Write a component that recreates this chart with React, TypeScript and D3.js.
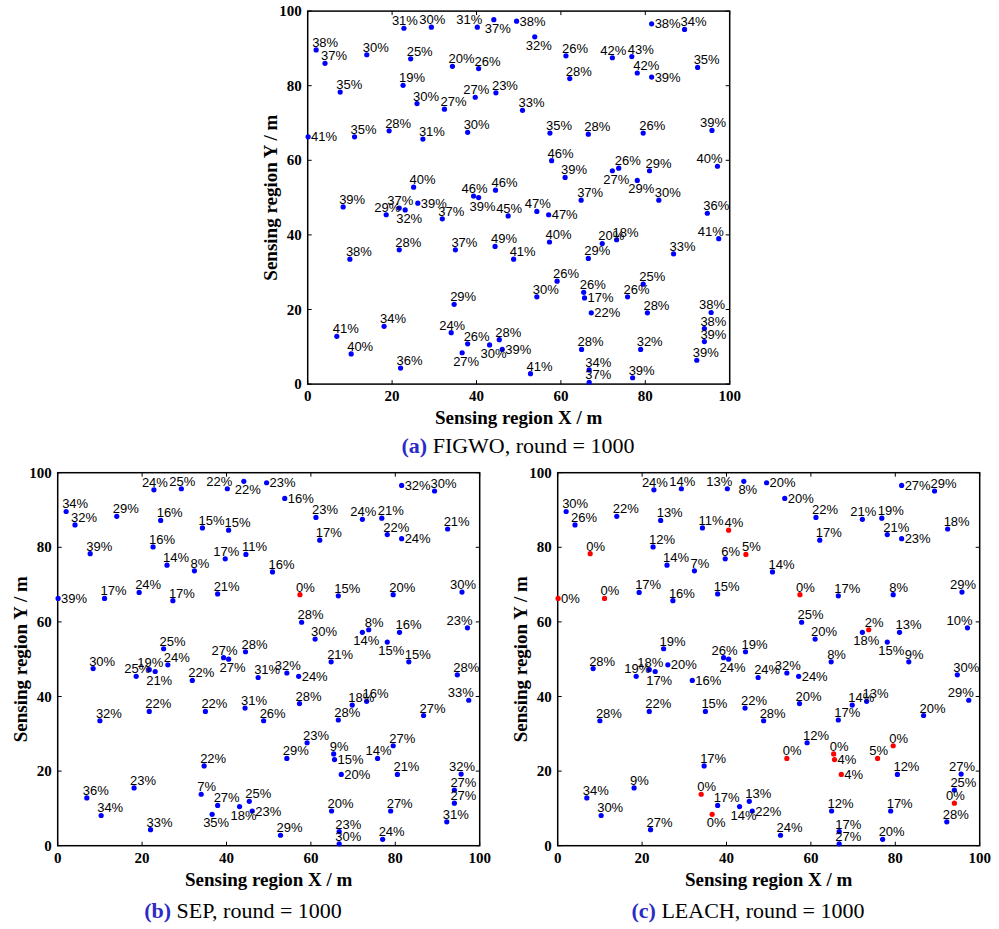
import React from "react";
import * as d3 from "d3";

// Node coordinates (same network in all three panels), metres
const nodeX = [22.8, 29.3, 40.2, 44.1, 49.5, 2.0, 4.1, 14.0, 24.4, 34.3, 40.5, 7.7, 22.6, 25.9, 32.4, 39.7, 44.6, 50.9, 0.1, 11.1, 19.3, 27.3, 37.9, 25.1, 39.3, 40.5, 44.5,
  53.8, 61.2, 62.1, 72.2, 76.8, 78.1, 81.5, 81.5, 89.3, 92.4, 57.4, 66.5, 79.5, 95.8, 57.8, 61.0, 72.2, 73.7, 78.1, 81.0, 97.1, 83.2, 64.8, 54.3, 57.1,
  8.4, 18.6, 21.7, 23.1, 26.1, 31.9, 47.5, 21.7, 10.0, 35.0, 44.4, 48.8, 34.7, 6.9, 18.1, 10.3, 22.0, 34.0, 37.9, 36.6, 43.1, 45.4, 46.1, 52.8,
  94.7, 57.3, 69.8, 73.2, 66.5, 86.7, 97.4, 59.1, 54.3, 65.4, 65.6, 67.2, 75.8, 79.5, 80.5, 95.6, 94.0, 94.0, 92.2, 64.9, 78.9, 66.7, 66.7, 77.0];
const nodeY = [95.4, 95.7, 95.7, 97.7, 97.3, 89.6, 86.0, 88.3, 87.2, 85.2, 84.6, 78.3, 80.1, 75.2, 73.7, 76.9, 78.1, 73.4, 66.3, 66.3, 67.9, 65.7, 67.5, 52.8, 50.4, 50.0, 52.0,
  93.1, 88.0, 81.9, 87.5, 87.8, 83.4, 82.3, 96.6, 95.1, 84.9, 67.3, 67.0, 67.3, 68.0, 59.9, 55.4, 57.2, 57.9, 54.6, 57.2, 58.4, 49.3, 49.3, 46.3, 45.4,
  47.5, 45.4, 47.2, 46.7, 48.5, 44.3, 45.1, 36.0, 33.5, 36.0, 36.9, 33.5, 21.4, 12.8, 15.5, 8.1, 4.3, 13.8, 10.8, 8.4, 10.5, 11.9, 9.3, 2.8,
  45.8, 38.1, 37.7, 38.7, 33.7, 34.9, 39.0, 27.6, 23.4, 24.6, 23.1, 19.1, 23.4, 26.8, 19.1, 19.2, 14.9, 11.4, 6.4, 9.3, 9.3, 3.8, 0.5, 1.7];

// Residual energy percentages after 1000 rounds
const figwoPct = [31, 30, 31, 37, 38, 38, 37, 30, 25, 20, 26, 35, 19, 30, 27, 27, 23, 33, 41, 35, 28, 31, 30, 40, 46, 39, 46,
  32, 26, 28, 42, 43, 42, 39, 38, 34, 35, 35, 28, 26, 39, 46, 39, 27, 26, 29, 29, 40, 30, 37, 47, 47,
  39, 29, 37, 32, 39, 37, 45, 28, 38, 37, 49, 41, 29, 41, 34, 40, 36, 24, 26, 27, 30, 28, 39, 41,
  36, 40, 20, 18, 29, 33, 41, 26, 30, 26, 17, 22, 26, 25, 28, 38, 38, 39, 39, 28, 32, 34, 37, 39];
const sepPct = [24, 25, 22, 22, 23, 34, 32, 29, 16, 15, 15, 39, 16, 14, 8, 17, 11, 16, 39, 17, 24, 17, 21, 25, 27, 27, 28,
  16, 23, 17, 24, 21, 22, 24, 32, 30, 21, 0, 15, 20, 30, 28, 30, 14, 8, 15, 16, 23, 15, 21, 32, 24,
  30, 25, 19, 21, 24, 22, 31, 22, 32, 22, 31, 26, 22, 36, 23, 34, 33, 7, 27, 35, 18, 25, 23, 29,
  28, 28, 18, 16, 28, 27, 33, 23, 29, 9, 15, 20, 14, 27, 21, 32, 27, 27, 31, 20, 27, 23, 30, 24];
const leachPct = [24, 14, 13, 8, 20, 30, 26, 22, 13, 11, 4, 0, 12, 14, 7, 6, 5, 14, 0, 0, 17, 16, 15, 19, 26, 24, 19,
  20, 22, 17, 21, 19, 21, 23, 27, 29, 18, 0, 17, 8, 29, 25, 20, 18, 2, 15, 13, 10, 9, 8, 32, 24,
  28, 19, 18, 17, 20, 16, 24, 22, 28, 15, 22, 28, 17, 34, 9, 30, 27, 0, 17, 0, 14, 13, 22, 24,
  30, 20, 14, 13, 17, 20, 29, 12, 0, 0, 4, 4, 5, 0, 12, 27, 25, 0, 28, 12, 17, 17, 27, 20];

const xTicks = [0, 20, 40, 60, 80, 100];
const yTicks = [0, 20, 40, 60, 80, 100];

// label placement exceptions (1-based node numbers); all others are "ne"
const placeFIGWO: Record<string, number[]> = {
  n: [1, 2, 16, 25, 31, 41, 51, 54, 55, 59, 70, 92],
  nw: [3, 48, 83],
  s: [4, 26, 28, 44, 46, 56, 72, 73],
  e: [5, 19, 34, 35, 52, 57, 75, 87, 88],
};
const placeSEP: Record<string, number[]> = {
  n: [1, 2, 16, 25, 31, 41, 51, 54, 55, 89, 92],
  nw: [3, 48, 83],
  s: [4, 26, 44, 46, 56, 72, 73],
  e: [5, 19, 28, 34, 35, 52, 75, 87, 88],
};
const placeLEACH: Record<string, number[]> = {
  n: [1, 2, 25, 31, 41, 51, 54, 55, 89, 92, 94],
  nw: [3, 48, 83],
  s: [4, 26, 44, 46, 56, 72, 73],
  e: [5, 19, 28, 34, 35, 52, 57, 58, 75, 87, 88],
};

const PW = 422;
const PH = 373;
const SERIF = "'Liberation Serif', 'Times New Roman', serif";
const SANS = "'Liberation Sans', Arial, sans-serif";

function placementOf(p: Record<string, number[]>, i: number): string {
  const k = i + 1;
  for (const code of ["n", "nw", "s", "e"]) {
    if (p[code].includes(k)) return code;
  }
  return "ne";
}

const OFFS: Record<string, { anchor: string; dx: number; dy: number }> = {
  ne: { anchor: "start", dx: -4, dy: -3 },
  n: { anchor: "middle", dx: 1, dy: -3 },
  nw: { anchor: "end", dx: 5, dy: -3 },
  e: { anchor: "start", dx: 3, dy: 4.5 },
  s: { anchor: "middle", dx: 4, dy: 13 },
};

type PanelProps = {
  x0: number;
  y0: number;
  values: number[];
  place: Record<string, number[]>;
  tag: string;
  title: string;
  capX: number;
  capY: number;
};

function Panel({ x0, y0, values, place, tag, title, capX, capY }: PanelProps) {
  const x = d3.scaleLinear().domain([0, 100]).range([x0, x0 + PW]);
  const y = d3.scaleLinear().domain([0, 100]).range([y0 + PH, y0]);
  const tl = 4;
  return (
    <g>
      {/* ticks */}
      {xTicks.map((t) => (
        <g key={"xt" + t}>
          <line x1={x(t)} x2={x(t)} y1={y(0)} y2={y(0) - tl} stroke="#000" strokeWidth={1} />
          <line x1={x(t)} x2={x(t)} y1={y(100)} y2={y(100) + tl} stroke="#000" strokeWidth={1} />
          <text x={x(t)} y={y(0) + 17} textAnchor="middle" fontFamily={SERIF} fontWeight="bold" fontSize={15}>
            {t}
          </text>
        </g>
      ))}
      {yTicks.map((t) => (
        <g key={"yt" + t}>
          <line x1={x(0)} x2={x(0) + tl} y1={y(t)} y2={y(t)} stroke="#000" strokeWidth={1} />
          <line x1={x(100)} x2={x(100) - tl} y1={y(t)} y2={y(t)} stroke="#000" strokeWidth={1} />
          <text x={x(0) - 6} y={y(t) + 5} textAnchor="end" fontFamily={SERIF} fontWeight="bold" fontSize={15}>
            {t}
          </text>
        </g>
      ))}
      <rect x={x0} y={y0} width={PW} height={PH} fill="none" stroke="#000" strokeWidth={1.5} />
      {/* nodes */}
      {nodeX.map((nx, i) => (
        <circle key={"c" + i} cx={x(nx)} cy={y(nodeY[i])} r={2.6} fill={values[i] <= 5 ? "#ff0000" : "#0000ff"} />
      ))}
      {nodeX.map((nx, i) => {
        const o = OFFS[placementOf(place, i)];
        return (
          <text
            key={"l" + i}
            x={x(nx) + o.dx}
            y={y(nodeY[i]) + o.dy}
            textAnchor={o.anchor}
            fontFamily={SANS}
            fontSize={13}
            fill="#000"
          >
            {values[i] + "%"}
          </text>
        );
      })}
      {/* axis labels */}
      <text x={x0 + PW / 2} y={y0 + PH + 40} textAnchor="middle" fontFamily={SERIF} fontWeight="bold" fontSize={19}>
        Sensing region X / m
      </text>
      <text
        transform={`translate(${x0 - 31},${y0 + PH / 2}) rotate(-90)`}
        textAnchor="middle"
        fontFamily={SERIF}
        fontWeight="bold"
        fontSize={19}
      >
        Sensing region Y / m
      </text>
      {/* caption */}
      <text x={capX} y={capY} textAnchor="middle" fontFamily={SERIF} fontSize={22}>
        <tspan fill="#2b2bc8" fontWeight="bold">{tag}</tspan>
        <tspan fill="#000">{" " + title}</tspan>
      </text>
    </g>
  );
}

export default function App() {
  return (
    <svg
      width={999}
      height={929}
      style={{ position: "absolute", left: 0, top: 0, background: "#fff" }}
    >
      <rect x={0} y={0} width={999} height={929} fill="#fff" />
      <Panel x0={307.7} y0={11.1} values={figwoPct} place={placeFIGWO} tag="(a)" title="FIGWO, round = 1000" capX={518} capY={453} />
      <Panel x0={57.7} y0={472.7} values={sepPct} place={placeSEP} tag="(b)" title="SEP, round = 1000" capX={243} capY={918} />
      <Panel x0={557.7} y0={472.7} values={leachPct} place={placeLEACH} tag="(c)" title="LEACH, round = 1000" capX={748} capY={918} />
    </svg>
  );
}
